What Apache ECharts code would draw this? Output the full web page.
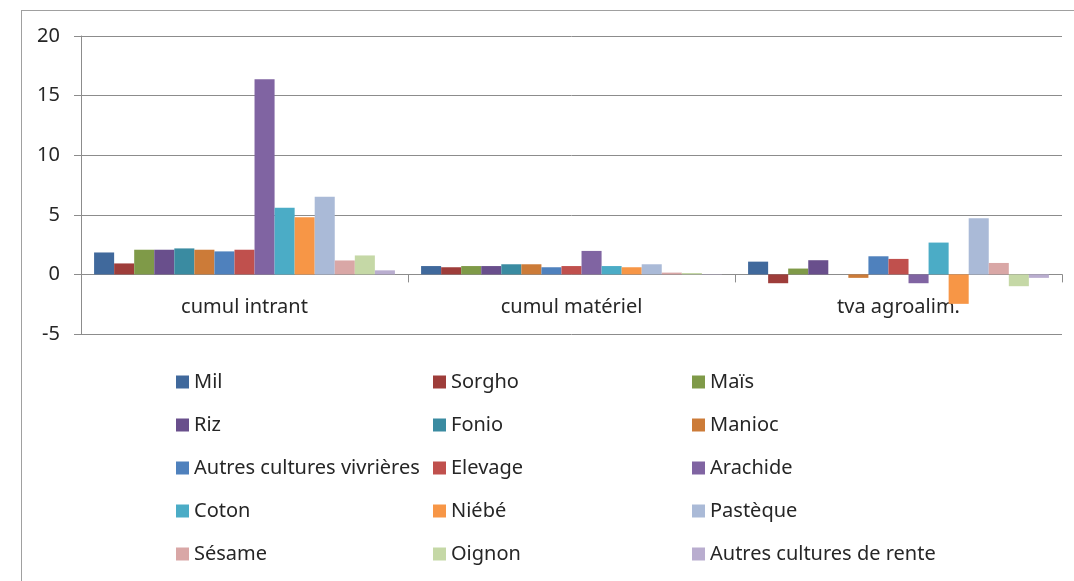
<!DOCTYPE html>
<html>
<head>
<meta charset="utf-8">
<script src="https://cdn.jsdelivr.net/npm/echarts@6/dist/echarts.min.js"></script>
<style>
	html, body { margin: 0; padding: 0; background: #fff; overflow: hidden; }
	#chart { position: absolute; left: 0; top: 0; width: 1074px; height: 581px; }
	#frame { position: absolute; left: 21px; top: 10px; width: 1200px; height: 800px;
		border: 1px solid #a0a0a0; pointer-events: none; }
</style>
</head>
<body>
<div id="chart"></div>
<div id="frame"></div>
<script type="text/javascript">
	// catégories de l'axe
	var categories = ['cumul intrant', 'cumul matériel', 'tva agroalim.'];

	// filières (ordre des séries)
	var filieres = ['Mil', 'Sorgho', 'Maïs', 'Riz', 'Fonio', 'Manioc',
		'Autres cultures vivrières', 'Elevage', 'Arachide', 'Coton', 'Niébé',
		'Pastèque', 'Sésame', 'Oignon', 'Autres cultures de rente'];

	var couleurs = ['#40699c', '#9e3d3a', '#7f9a48', '#694f8c', '#3a8ba1', '#cc7b38',
		'#4f81bd', '#c0504d', '#8064a2', '#4bacc6', '#f79646',
		'#aabad7', '#d9a7a6', '#c5d8a6', '#b9adcf'];

	// valeurs par catégorie, dans l'ordre des filières
	var cumulIntrant = [1.84, 0.92, 2.07, 2.07, 2.18, 2.07, 1.93, 2.07, 16.37, 5.59, 4.80, 6.51, 1.17, 1.59, 0.34];
	var cumulMateriel = [0.70, 0.60, 0.70, 0.70, 0.85, 0.85, 0.60, 0.70, 1.97, 0.70, 0.60, 0.85, 0.15, 0.12, 0.03];
	var tvaAgroalim = [1.07, -0.74, 0.49, 1.19, 0, -0.29, 1.52, 1.30, -0.74, 2.67, -2.47, 4.71, 0.96, -0.99, -0.29];

	var yTicks = [-5, 0, 5, 10, 15, 20];

	var police = 'Noto Sans';
	var gris = '#8c8c8c';
	var texte = '#262626';

	var chart = echarts.init(document.getElementById('chart'));

	var series = [];
	for (var i = 0; i < filieres.length; i++) {
		series.push({
			name: filieres[i],
			type: 'bar',
			barGap: '0%',
			barCategoryGap: '8%',
			itemStyle: { color: couleurs[i] },
			data: [cumulIntrant[i], cumulMateriel[i], tvaAgroalim[i]]
		});
	}

	// légende en 3 colonnes
	function legende(noms, left) {
		return {
			orient: 'vertical',
			left: left,
			top: 372,
			padding: 0,
			icon: 'rect',
			itemWidth: 13,
			itemHeight: 13,
			itemGap: 23,
			selectedMode: false,
			textStyle: { fontFamily: police, fontSize: 20, color: texte, lineHeight: 20 },
			data: noms
		};
	}
	var col1 = [], col2 = [], col3 = [];
	for (var j = 0; j < filieres.length; j++) {
		if (j % 3 === 0) col1.push(filieres[j]);
		else if (j % 3 === 1) col2.push(filieres[j]);
		else col3.push(filieres[j]);
	}

	var option = {
		animation: false,
		grid: { left: 81, top: 36, right: 12, bottom: 247, containLabel: false },
		legend: [legende(col1, 176), legende(col2, 433), legende(col3, 692)],
		xAxis: {
			type: 'category',
			data: categories,
			axisLine: { onZero: true, lineStyle: { color: gris, width: 1 } },
			axisTick: { show: true, alignWithLabel: false, interval: 0, length: 8, lineStyle: { color: gris } },
			// les étiquettes restent en bas de la grille : on les remonte sous la ligne du zéro
			axisLabel: { margin: -37, fontFamily: police, fontSize: 20, color: texte, interval: 0 },
			splitLine: { show: false }
		},
		yAxis: {
			type: 'value',
			min: yTicks[0],
			max: yTicks[yTicks.length - 1],
			interval: 5,
			axisLine: { show: true, lineStyle: { color: gris, width: 1 } },
			axisTick: { show: true, length: 7, lineStyle: { color: gris } },
			axisLabel: { margin: 21, fontFamily: police, fontSize: 20, color: texte },
			splitLine: { show: true, lineStyle: { color: gris, width: 1 } }
		},
		series: series
	};

	chart.setOption(option);
</script>
</body>
</html>
